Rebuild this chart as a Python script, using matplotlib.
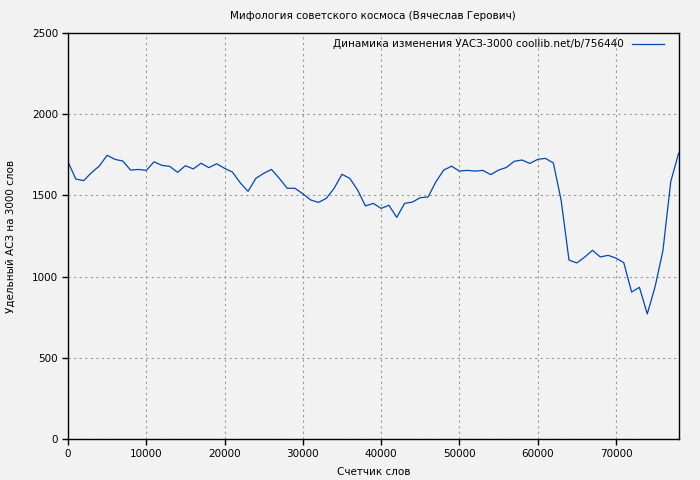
import numpy as np
import matplotlib
matplotlib.use("Agg")
import matplotlib.pyplot as plt

# Счетчик слов: точки через каждые 1000 слов
words = np.arange(0, 79) * 1000
# Удельный АСЗ на 3000 слов
uasz = [1707, 1601, 1591, 1640, 1681, 1747, 1722, 1712, 1656, 1660,
        1654, 1707, 1685, 1679, 1642, 1683, 1663, 1698, 1671, 1695,
        1667, 1644, 1578, 1525, 1605, 1636, 1660, 1605, 1544, 1544,
        1510, 1472, 1457, 1482, 1544, 1630, 1605, 1533, 1435, 1451,
        1420, 1439, 1365, 1451, 1459, 1486, 1490, 1584, 1656, 1680,
        1650, 1654, 1650, 1654, 1628, 1656, 1672, 1710, 1718, 1697,
        1722, 1728, 1700, 1470, 1102, 1084, 1120, 1162, 1121, 1131,
        1114, 1086, 905, 934, 770, 938, 1160, 1585, 1759]

title = "Мифология советского космоса (Вячеслав Герович)"
legend_label = "Динамика изменения УАСЗ-3000 coollib.net/b/756440"
bg = "#f2f2f2"

plt.rcParams['font.family'] = ['DejaVu Sans']
plt.rcParams['font.size'] = 7.5

fig = plt.figure(figsize=(7, 4.8), dpi=100, facecolor=bg)
ax = fig.add_axes([0.0971, 0.0854, 0.8723, 0.8458], facecolor=bg)

ax.plot(words, uasz, color="#0047b8", linewidth=0.9, label=legend_label)

ax.set_xlim(0, 78000)
ax.set_ylim(0, 2500)
ax.set_xticks(np.arange(0, 78000, 10000))
ax.set_yticks(np.arange(0, 2501, 500))
ax.grid(True, color="#999999", linestyle=(0, (2, 3)), linewidth=0.8)
ax.set_axisbelow(True)

for s in ax.spines.values():
    s.set_color("black")
    s.set_linewidth(1.0)
ax.tick_params(direction="out", length=4, width=1, colors="black", pad=3)

ax.set_title(title, fontsize=7.5, pad=10)
ax.set_xlabel("Счетчик слов", labelpad=6)
ax.set_ylabel("Удельный АСЗ на 3000 слов", labelpad=12)

leg = ax.legend(loc="upper right", bbox_to_anchor=(0.9885, 1.0025),
                frameon=False, markerfirst=False,
                handlelength=3.1, handletextpad=0.75, fontsize=7.5,
                borderaxespad=0.3)

fig.savefig("out.png", dpi=100, facecolor=bg)
